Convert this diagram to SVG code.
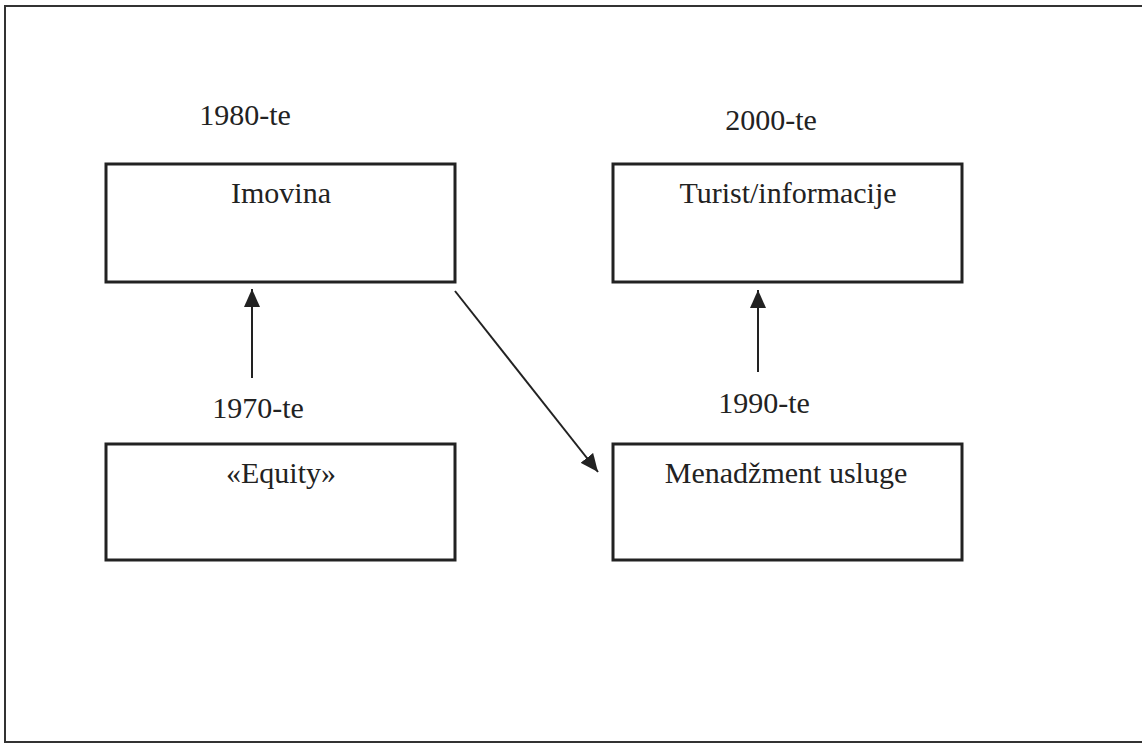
<svg xmlns="http://www.w3.org/2000/svg" width="1142" height="744" viewBox="0 0 1142 744">
  <defs>
    <style>
      .box { fill: #ffffff; stroke: #222222; stroke-width: 3; }
      .lbl { font-family: "Liberation Serif", "Times New Roman", serif; font-size: 30px; fill: #222222; }
      .mid { text-anchor: middle; }
      .conn { stroke: #222222; stroke-width: 2; fill: none; marker-end: url(#arr); }
    </style>
    <marker id="arr" viewBox="0 0 18 16" refX="18" refY="8" markerWidth="18" markerHeight="16" markerUnits="userSpaceOnUse" orient="auto">
      <path d="M0,0 L18,8 L0,16 z" fill="#222222"/>
    </marker>
  </defs>
  <rect x="0" y="0" width="1142" height="744" fill="#ffffff"/>
  <rect x="5" y="6" width="1145" height="736" fill="none" stroke="#333333" stroke-width="2"/>

  <g id="node-imovina">
    <text class="lbl mid" x="245" y="125">1980-te</text>
    <rect class="box" x="106" y="164" width="349" height="118"/>
    <text class="lbl mid" x="281" y="203">Imovina</text>
  </g>
  <g id="node-turist">
    <text class="lbl mid" x="771" y="130">2000-te</text>
    <rect class="box" x="613" y="164" width="349" height="118"/>
    <text class="lbl mid" x="788" y="203">Turist/informacije</text>
  </g>
  <g id="node-equity">
    <text class="lbl mid" x="258" y="418">1970-te</text>
    <rect class="box" x="106" y="444" width="349" height="116"/>
    <text class="lbl mid" x="281" y="483">«Equity»</text>
  </g>
  <g id="node-menadzment">
    <text class="lbl mid" x="764" y="413">1990-te</text>
    <rect class="box" x="613" y="444" width="349" height="116"/>
    <text class="lbl mid" x="786" y="483">Menadžment usluge</text>
  </g>

  <g id="connectors">
    <line class="conn" x1="252" y1="378" x2="252" y2="289"/>
    <line class="conn" x1="758" y1="372" x2="758" y2="290"/>
    <line class="conn" x1="455" y1="291" x2="598" y2="472"/>
  </g>
</svg>
